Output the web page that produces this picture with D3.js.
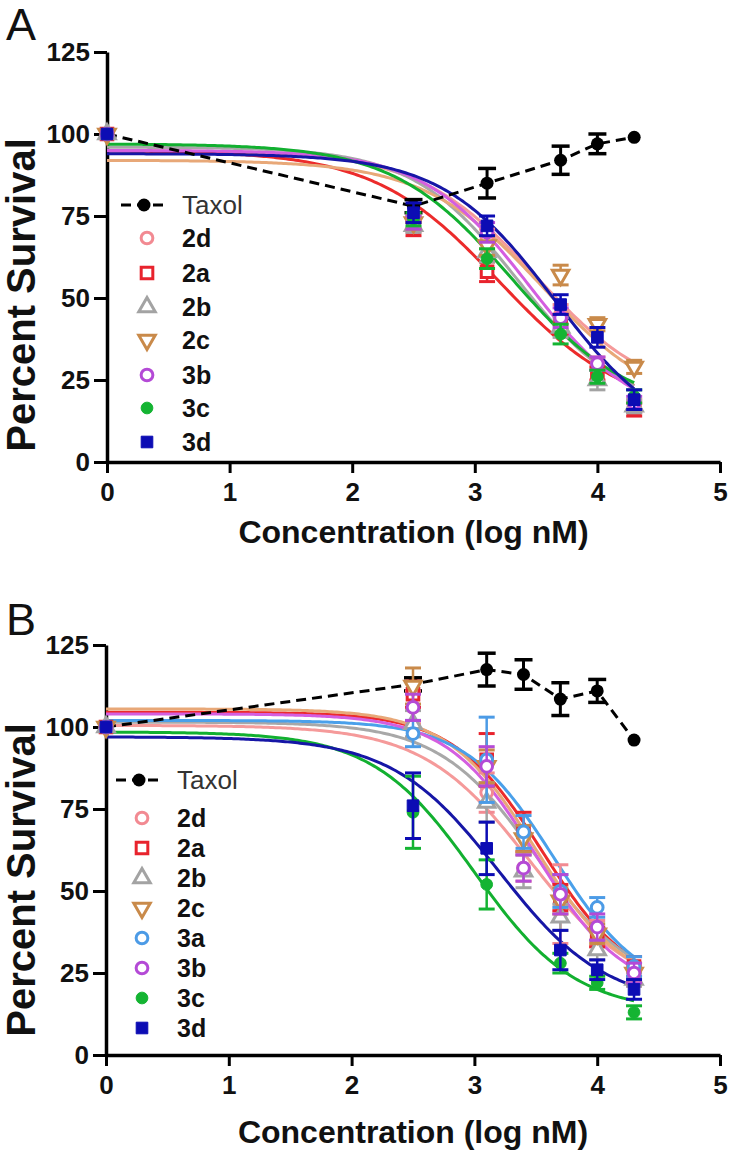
<!DOCTYPE html>
<html><head><meta charset="utf-8">
<script src="https://cdn.jsdelivr.net/npm/d3@7"></script>
<style>body{margin:0;background:#fff}svg{display:block}</style>
</head><body>
<svg id="chart" width="732" height="1154"></svg>
<script>
// ---------------- data ----------------
const xTickValues = [0, 1, 2, 3, 4, 5];
const yTickValues = [0, 25, 50, 75, 100, 125];
const xTitle = "Concentration (log nM)";
const yTitle = "Percent Survival";
const panelLetters = ["A", "B"];

// Panel A (log nM)
const concA = [0, 2.5, 3.1, 3.7, 4.0, 4.3];
const taxolA = [100, 78, 85, 92, 97, 99];
const taxolAErr = [0, 2, 4.5, 4.3, 3, 1];
const a2d = [100, 72, 68, 45, 30, 17];
const a2a = [100, 71, 58, 42, 27, 16];
const a2b = [100, 72, 64, 41, 25, 17];
const a2c = [100, 73, 66, 57, 42, 29];
const a3b = [100, 73, 70, 44, 30, 18];
const a3c = [100, 74, 62, 39, 26, 20];
const a3d = [100, 76, 72, 48, 38, 19];
const a2dErr = [0, 2, 3, 3, 2, 2];
const a2aErr = [0, 2, 3, 3, 2, 2];
const a2bErr = [0, 2, 3, 3, 3, 2];
const a2cErr = [0, 2, 3, 3, 2, 2];
const a3bErr = [0, 2, 3, 3, 2, 2];
const a3cErr = [0, 2, 3, 3, 2, 2];
const a3dErr = [0, 3, 3, 3, 3, 3];
// fitted sigmoid parameters [top, bottom, logEC50, hill]
const fitA2d = [95, 18, 3.5, 0.9];
const fitA2a = [95, 15, 3.2, 0.85];
const fitA2b = [96, 15, 3.35, 1.0];
const fitA2c = [92, 15, 3.55, 0.9];
const fitA3b = [95, 12, 3.45, 1.0];
const fitA3c = [97, 15, 3.3, 0.9];
const fitA3d = [94, 5, 3.65, 0.95];

// Panel B (log nM)
const concB = [0, 2.5, 3.1, 3.4, 3.7, 4.0, 4.3];
const taxolB = [100, 113, 117.5, 116, 108.5, 111, 96];
const taxolBErr = [0, 2, 5, 4.5, 5, 3.5, 1];
const b2d = [100, 106, 80, 57, 46, 37, 24];
const b2a = [100, 110, 90, 68, 48, 36, 27];
const b2b = [100, 101, 77, 56, 42, 32, 23];
const b2c = [100, 112.5, 88, 66, 47, 37, 25];
const b3a = [100, 98, 90, 68, 50, 45, 27];
const b3b = [100, 106, 88, 57, 49, 39, 25];
const b3c = [100, 74, 52, null, 28, 22, 13];
const b3d = [100, 76, 63, null, 32, 26, 20];
const b2dErr = [0, 5, 6, 4, 12, 4, 3];
const b2aErr = [0, 4, 8, 6, 4, 3, 3];
const b2bErr = [0, 4, 6, 5, 4, 3, 2];
const b2cErr = [0, 5.5, 5, 4, 4, 3, 3];
const b3aErr = [0, 4, 13, 5, 5, 3, 3];
const b3bErr = [0, 4, 6, 4, 6, 4, 3];
const b3cErr = [0, 11, 7.5, null, 3, 2, 2];
const b3dErr = [0, 10, 8, null, 6, 3, 3];
const fitB2d = [100.5, 18, 3.45, 1.0];
const fitB2a = [104.5, 20, 3.55, 1.2];
const fitB2b = [101.5, 20, 3.5, 1.1];
const fitB2c = [105.5, 20, 3.5, 1.2];
const fitB3a = [102, 18, 3.65, 1.2];
const fitB3b = [104, 18, 3.5, 1.2];
const fitB3c = [98.5, 13, 3.0, 1.05];
const fitB3d = [97, 15, 3.2, 1.0];

// ---------------- styles ----------------
const FONT = "'Liberation Sans', Arial, Helvetica, sans-serif";
const styles = {
  "2d": {color: "#f28a92", curve: "#f59a9a", sym: "circle", open: true},
  "2a": {color: "#e8232d", curve: "#ec2b2b", sym: "square", open: true},
  "2b": {color: "#a3a3a3", curve: "#a8a8a8", sym: "triangle", open: true},
  "2c": {color: "#c98a4a", curve: "#e8a878", sym: "triDown", open: true},
  "3a": {color: "#4c9be6", curve: "#4aa0ea", sym: "circle", open: true},
  "3b": {color: "#b44ad6", curve: "#d45ee0", sym: "circle", open: true},
  "3c": {color: "#14b432", curve: "#12b030", sym: "circle", open: false},
  "3d": {color: "#0c0cb4", curve: "#1616a6", sym: "square", open: false}
};

const panels = [
  {letter: panelLetters[0], yBase: 462, yTop: 52, xL: 107, xR: 720, letterY: 40,
   titleY: 81, yTitleCenter: 295, conc: concA, taxol: taxolA, taxolErr: taxolAErr,
   legendX: 147, legendTaxolY: 205, legendRows: [238, 273, 307, 340, 375, 408, 442],
   series: [
     {name: "2d", v: a2d, e: a2dErr, fit: fitA2d},
     {name: "2a", v: a2a, e: a2aErr, fit: fitA2a},
     {name: "2b", v: a2b, e: a2bErr, fit: fitA2b},
     {name: "2c", v: a2c, e: a2cErr, fit: fitA2c},
     {name: "3b", v: a3b, e: a3bErr, fit: fitA3b},
     {name: "3c", v: a3c, e: a3cErr, fit: fitA3c},
     {name: "3d", v: a3d, e: a3dErr, fit: fitA3d}
   ]},
  {letter: panelLetters[1], yBase: 1055, yTop: 645, xL: 106, xR: 720, letterY: 635,
   titleY: 88, yTitleCenter: 880, conc: concB, taxol: taxolB, taxolErr: taxolBErr,
   legendX: 142, legendTaxolY: 780, legendRows: [818, 848, 878, 908, 938, 968, 998, 1028],
   series: [
     {name: "2d", v: b2d, e: b2dErr, fit: fitB2d},
     {name: "2a", v: b2a, e: b2aErr, fit: fitB2a},
     {name: "2b", v: b2b, e: b2bErr, fit: fitB2b},
     {name: "2c", v: b2c, e: b2cErr, fit: fitB2c},
     {name: "3a", v: b3a, e: b3aErr, fit: fitB3a},
     {name: "3b", v: b3b, e: b3bErr, fit: fitB3b},
     {name: "3c", v: b3c, e: b3cErr, fit: fitB3c},
     {name: "3d", v: b3d, e: b3dErr, fit: fitB3d}
   ]}
];

const svg = d3.select("#chart");

function symbolPath(kind, size) {
  if (kind === "circle") return d3.symbol(d3.symbolCircle, size)();
  if (kind === "square") return d3.symbol(d3.symbolSquare, size)();
  return d3.symbol(d3.symbolTriangle, size)();
}
function drawMarker(g, st, cx, cy, scale) {
  const s = scale || 1;
  const size = st.sym === "square" ? 150 * s : st.sym === "circle" ? 120 * s : 130 * s;
  return g.append("path")
    .attr("d", symbolPath(st.sym, size))
    .attr("transform", `translate(${cx},${cy})` + (st.sym === "triDown" ? " rotate(180)" : ""))
    .attr("fill", st.open ? "white" : st.color)
    .attr("stroke", st.color)
    .attr("stroke-width", st.open ? 3 : 1);
}
function sigmoid(p, x) {
  return p[1] + (p[0] - p[1]) / (1 + Math.pow(10, (x - p[2]) * p[3]));
}

panels.forEach(P => {
  const x = d3.scaleLinear().domain([0, 5]).range([P.xL, P.xR]);
  const y = d3.scaleLinear().domain([0, 125]).range([P.yBase, P.yTop]);
  const g = svg.append("g");

  // axes
  const ax = g.append("g").attr("transform", `translate(0,${P.yBase})`)
    .call(d3.axisBottom(x).tickValues(xTickValues).tickFormat(d3.format("d")).tickSize(11).tickSizeOuter(0).tickPadding(10));
  const ay = g.append("g").attr("transform", `translate(${P.xL},0)`)
    .call(d3.axisLeft(y).tickValues(yTickValues).tickSize(13).tickSizeOuter(0).tickPadding(4));
  [ax, ay].forEach(a => {
    a.select(".domain").attr("stroke", "#000").attr("stroke-width", 3.5);
    a.selectAll(".tick line").attr("stroke", "#000").attr("stroke-width", 3);
    a.selectAll(".tick text").attr("fill", "#111").style("font-family", FONT)
      .style("font-size", "26px").style("font-weight", "bold");
  });

  // titles
  g.append("text").attr("x", (P.xL + P.xR) / 2).attr("y", P.yBase + P.titleY)
    .attr("text-anchor", "middle").style("font-family", FONT).style("font-size", "32px")
    .style("font-weight", "bold").attr("fill", "#111").text(xTitle);
  g.append("text").attr("transform", `translate(35,${P.yTitleCenter}) rotate(-90)`)
    .attr("text-anchor", "middle").style("font-family", FONT).style("font-size", "40px")
    .style("font-weight", "bold").attr("fill", "#111").text(yTitle);
  g.append("text").attr("x", 6).attr("y", P.letterY).style("font-family", FONT)
    .style("font-size", "45px").attr("fill", "#111").text(P.letter);

  // fitted curves
  const xs = d3.range(0, 4.3001, 0.02);
  const line = d3.line().x(d => x(d[0])).y(d => y(d[1]));
  P.series.forEach(s => {
    g.append("path").attr("d", line(xs.map(v => [v, sigmoid(s.fit, v)])))
      .attr("fill", "none").attr("stroke", styles[s.name].curve).attr("stroke-width", 3);
  });

  // Taxol dashed line, error bars and points (beneath compound markers)
  g.append("path").attr("d", line(P.conc.map((c, i) => [c, P.taxol[i]])))
    .attr("fill", "none").attr("stroke", "#000").attr("stroke-width", 3)
    .attr("stroke-dasharray", "10,6");
  P.conc.forEach((c, i) => {
    const v = P.taxol[i], e = P.taxolErr[i];
    if (e > 1.5) {
      g.append("line").attr("x1", x(c)).attr("x2", x(c)).attr("y1", y(v - e)).attr("y2", y(v + e))
        .attr("stroke", "#000").attr("stroke-width", 3);
      [v - e, v + e].forEach(t => g.append("line").attr("x1", x(c) - 9).attr("x2", x(c) + 9)
        .attr("y1", y(t)).attr("y2", y(t)).attr("stroke", "#000").attr("stroke-width", 3.5));
    }
    g.append("circle").attr("cx", x(c)).attr("cy", y(v)).attr("r", 6.5).attr("fill", "#000");
  });

  // compound error bars + markers
  P.series.forEach(s => {
    const st = styles[s.name];
    P.conc.forEach((c, i) => {
      const v = s.v[i];
      if (v == null) return;
      const e = s.e[i];
      if (e) {
        g.append("line").attr("x1", x(c)).attr("x2", x(c)).attr("y1", y(v - e)).attr("y2", y(v + e))
          .attr("stroke", st.color).attr("stroke-width", 2.5);
        [v - e, v + e].forEach(t => g.append("line").attr("x1", x(c) - 8).attr("x2", x(c) + 8)
          .attr("y1", y(t)).attr("y2", y(t)).attr("stroke", st.color).attr("stroke-width", 3));
      }
      drawMarker(g, st, x(c), y(v), 0.9);
    });
  });

  // legend
  const lg = g.append("g");
  lg.append("line").attr("x1", P.legendX - 29).attr("x2", P.legendX + 20)
    .attr("y1", P.legendTaxolY).attr("y2", P.legendTaxolY).attr("stroke", "#000").attr("stroke-width", 3)
    .attr("stroke-dasharray", "10,6").attr("stroke-dashoffset", -3);
  lg.append("circle").attr("cx", P.legendX - 3).attr("cy", P.legendTaxolY).attr("r", 6.5).attr("fill", "#000");
  lg.append("text").attr("x", P.legendX + 35).attr("y", P.legendTaxolY + 9)
    .style("font-family", FONT).style("font-size", "26px").attr("fill", "#333").text("Taxol");
  P.series.forEach((s, i) => {
    const yy = P.legendRows[i];
    drawMarker(lg, styles[s.name], P.legendX, yy, 0.9);
    lg.append("text").attr("x", P.legendX + 35).attr("y", yy + 9)
      .style("font-family", FONT).style("font-size", "25px").style("font-weight", "bold")
      .attr("fill", "#111").text(s.name);
  });
});
</script>
</body></html>
